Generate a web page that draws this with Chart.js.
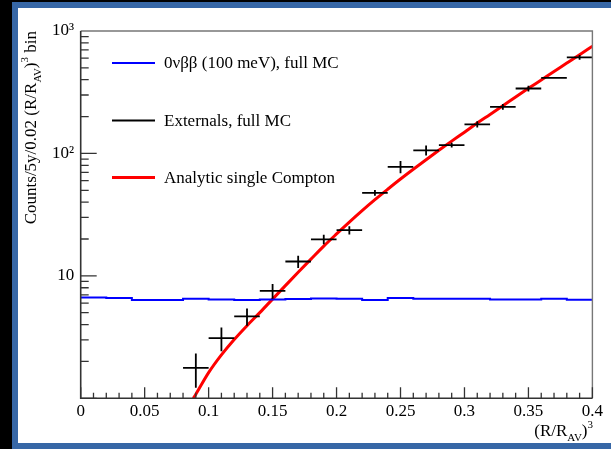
<!DOCTYPE html>
<html lang="en">
<head>
    <meta charset="UTF-8" />
    <title>Externals vs 0vbb radial distribution</title>
    <script src="https://cdn.jsdelivr.net/npm/chart.js"></script>
    <style>
        html, body {
            margin: 0;
            padding: 0;
            background: #000;
            width: 611px;
            height: 449px;
            overflow: hidden;
        }

        #frame {
            position: absolute;
            left: 12px;
            top: 2px;
            width: 599px;
            height: 447px;
            background: #3767a6;
        }

        #panel {
            position: absolute;
            left: 18px;
            top: 8px;
            width: 593px;
            height: 435px;
            background: #fff;
        }

        canvas {
            position: absolute;
            left: 0;
            top: 0;
        }
    </style>
</head>
<body>
    <div id="frame"></div>
    <div id="panel"></div>
    <canvas id="chart" width="611" height="449"></canvas>

    <script>
        // histogram bins (R/R_AV)^3, width 0.02
        const binLow = [0, 0.02, 0.04, 0.06, 0.08, 0.10, 0.12, 0.14, 0.16, 0.18,
                        0.20, 0.22, 0.24, 0.26, 0.28, 0.30, 0.32, 0.34, 0.36, 0.38];
        const binWidth = 0.02;

        // 0vbb (100 meV), full MC
        const signalCounts = [6.65, 6.58, 6.34, 6.34, 6.50, 6.41, 6.34, 6.41, 6.46, 6.53,
                              6.50, 6.34, 6.58, 6.50, 6.50, 6.50, 6.41, 6.41, 6.50, 6.38];

        // Externals, full MC (bin centres, counts, errors)
        const extX = [0.09, 0.11, 0.13, 0.15, 0.17, 0.19, 0.21, 0.23, 0.25, 0.27,
                      0.29, 0.31, 0.33, 0.35, 0.37, 0.39];
        const extCounts = [1.77, 3.1, 4.66, 7.55, 13.1, 19.9, 23.6, 47.7, 77.8, 106,
                           117, 173, 240, 339, 414, 610];
        const extErr = [0.55, 0.68, 0.75, 1.05, 1.5, 1.8, 1.8, 2.6, 9, 10,
                        5, 10, 13, 18, 5, 28];

        // Analytic single Compton
        const comptonX = [0.088, 0.09, 0.10, 0.11, 0.12, 0.13, 0.14, 0.15, 0.16, 0.17,
                          0.18, 0.19, 0.20, 0.21, 0.22, 0.23, 0.24, 0.25, 0.26, 0.27,
                          0.28, 0.29, 0.30, 0.31, 0.32, 0.33, 0.34, 0.35, 0.36, 0.37,
                          0.38, 0.39, 0.40];
        const comptonY = [1.0, 1.08, 1.62, 2.26, 3.02, 3.92, 5.01, 6.46, 8.32, 10.7,
                          13.7, 17.5, 22.0, 27.5, 34.1, 41.9, 51.0, 61.8, 74.3, 88.9,
                          106, 126, 149, 177, 208, 245, 289, 340, 398, 467,
                          547, 641, 752];

        const yLabels = { 10: '10', 100: '10²', 1000: '10³' };
        const serif = '"Liberation Serif", "DejaVu Serif", serif';

        const histPoints = binLow.map((x, i) => ({ x, y: signalCounts[i] }));
        histPoints.push({ x: binLow[binLow.length - 1] + binWidth, y: signalCounts[signalCounts.length - 1] });

        // draws text pieces with sub/superscripts, returns width
        function richText(ctx, parts, x, y, draw) {
            let w = 0;
            parts.forEach(p => {
                const size = p.s ? 11 : 17;
                ctx.font = size + 'px ' + serif;
                const dy = p.s === 'sub' ? 5 : p.s === 'sup' ? -8 : 0;
                if (draw) ctx.fillText(p.t, x + w, y + dy);
                w += ctx.measureText(p.t).width;
            });
            return w;
        }

        const decor = {
            id: 'decor',
            afterDatasetsDraw(chart) {
                const { ctx, chartArea: a, scales: { x, y } } = chart;
                ctx.save();

                // error crosses for externals
                ctx.strokeStyle = '#000';
                ctx.lineWidth = 1.8;
                extX.forEach((cx, i) => {
                    const px = x.getPixelForValue(cx);
                    const py = y.getPixelForValue(extCounts[i]);
                    ctx.beginPath();
                    ctx.moveTo(x.getPixelForValue(cx - binWidth / 2), py);
                    ctx.lineTo(x.getPixelForValue(cx + binWidth / 2), py);
                    ctx.moveTo(px, Math.min(a.bottom, y.getPixelForValue(extCounts[i] - extErr[i])));
                    ctx.lineTo(px, y.getPixelForValue(extCounts[i] + extErr[i]));
                    ctx.stroke();
                });

                // frame
                ctx.lineWidth = 1.4;
                ctx.strokeStyle = '#777';
                ctx.beginPath();
                ctx.moveTo(a.left, a.top);
                ctx.lineTo(a.right, a.top);
                ctx.lineTo(a.right, a.bottom);
                ctx.stroke();
                ctx.strokeStyle = '#333';
                ctx.lineWidth = 1.6;
                ctx.beginPath();
                ctx.moveTo(a.left, a.top);
                ctx.lineTo(a.left, a.bottom);
                ctx.lineTo(a.right, a.bottom);
                ctx.stroke();

                // inward ticks
                ctx.lineWidth = 1.3;
                ctx.beginPath();
                for (let d = 1; d < 1000; d *= 10) {
                    for (let m = 1; m < 10; m++) {
                        const py = y.getPixelForValue(m * d);
                        ctx.moveTo(a.left, py);
                        ctx.lineTo(a.left + (m === 1 ? 16 : 8), py);
                    }
                }
                for (let i = 0; i <= 40; i++) {
                    const px = x.getPixelForValue(i * 0.01);
                    ctx.moveTo(px, a.bottom);
                    ctx.lineTo(px, a.bottom - (i % 5 === 0 ? 11 : 5.5));
                }
                ctx.stroke();

                // legend
                ctx.textBaseline = 'middle';
                ctx.fillStyle = '#000';
                const rows = [63, 120.5, 177.5];
                chart.data.datasets.forEach((ds, i) => {
                    ctx.strokeStyle = ds.borderColor;
                    ctx.lineWidth = ds.legendWidth;
                    ctx.beginPath();
                    ctx.moveTo(112, rows[i]);
                    ctx.lineTo(155, rows[i]);
                    ctx.stroke();
                    ctx.font = '17px ' + serif;
                    ctx.fillText(ds.label, 164, rows[i] + 1);
                });

                // x title
                ctx.textBaseline = 'alphabetic';
                const xt = [{ t: '(R/R' }, { t: 'AV', s: 'sub' }, { t: ')' }, { t: '3', s: 'sup' }];
                const xw = richText(ctx, xt, 0, 0, false);
                richText(ctx, xt, 593 - xw, 436, true);

                // y title, rotated
                const yt = [{ t: 'Counts/5y/0.02 (R/R' }, { t: 'AV', s: 'sub' }, { t: ')' },
                            { t: '3', s: 'sup' }, { t: ' bin' }];
                const yw = richText(ctx, yt, 0, 0, false);
                ctx.translate(36, a.top);
                ctx.rotate(-Math.PI / 2);
                richText(ctx, yt, -yw, 0, true);

                ctx.restore();
            }
        };

        new Chart(document.getElementById('chart'), {
            type: 'line',
            data: {
                datasets: [
                    {
                        label: '0νββ (100 meV), full MC',
                        data: histPoints,
                        borderColor: '#0000ff',
                        borderWidth: 2,
                        legendWidth: 2,
                        stepped: true,
                        pointRadius: 0
                    },
                    {
                        label: 'Externals, full MC',
                        data: extX.map((x, i) => ({ x, y: extCounts[i] })),
                        borderColor: '#000',
                        legendWidth: 2,
                        showLine: false,
                        pointRadius: 0
                    },
                    {
                        label: 'Analytic single Compton',
                        data: comptonX.map((x, i) => ({ x, y: comptonY[i] })),
                        borderColor: '#ff0000',
                        borderWidth: 3,
                        legendWidth: 3,
                        cubicInterpolationMode: 'monotone',
                        pointRadius: 0
                    }
                ]
            },
            options: {
                responsive: false,
                animation: false,
                layout: { padding: { left: 0, right: 18.6, top: 31, bottom: 0 } },
                plugins: { legend: { display: false }, tooltip: { enabled: false } },
                scales: {
                    x: {
                        type: 'linear',
                        min: 0,
                        max: 0.4,
                        grid: { display: false, drawTicks: false },
                        border: { display: false },
                        ticks: {
                            stepSize: 0.05,
                            autoSkip: false,
                            maxRotation: 0,
                            padding: 3,
                            color: '#000',
                            font: { family: serif, size: 17 },
                            callback: v => String(+v.toFixed(2))
                        },
                        afterFit: s => { s.height = 449 - 398.3; }
                    },
                    y: {
                        type: 'logarithmic',
                        min: 1,
                        max: 1000,
                        grid: { display: false, drawTicks: false },
                        border: { display: false },
                        afterBuildTicks: s => { s.ticks = [1, 10, 100, 1000].map(value => ({ value })); },
                        ticks: {
                            padding: 6.5,
                            color: '#000',
                            font: { family: serif, size: 17 },
                            callback: v => yLabels[v] || ''
                        },
                        afterFit: s => { s.width = 80.7; }
                    }
                }
            },
            plugins: [decor]
        });
    </script>
</body>
</html>
